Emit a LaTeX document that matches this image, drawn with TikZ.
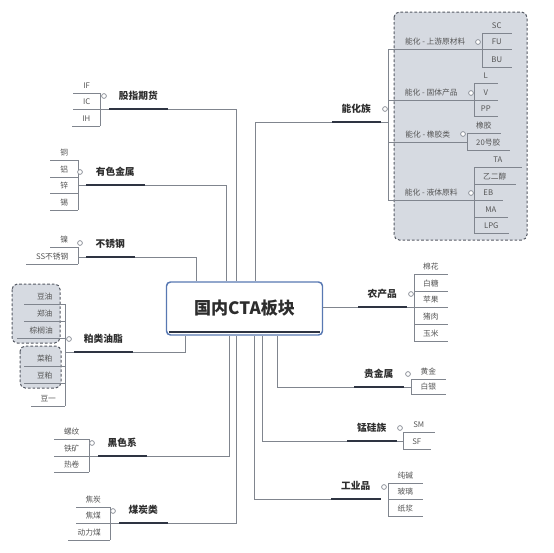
\documentclass[tikz,border=0pt]{standalone}
\usepackage{fontspec}
\setmainfont{Noto Sans CJK SC}
\usepackage{tikz}

\definecolor{linegray}{RGB}{128,133,142}
\definecolor{bardark}{RGB}{46,52,66}
\definecolor{hubblue}{RGB}{88,120,178}
\definecolor{groupfill}{RGB}{214,218,225}
\definecolor{groupedge}{RGB}{85,90,100}
\definecolor{leaftext}{RGB}{85,85,85}
\definecolor{topictext}{RGB}{45,45,45}

\tikzset{
  wire/.style={draw=linegray, line width=0.75pt},
  bar/.style={draw=bardark, line width=2.2pt},
  topic/.style={font=\fontsize{7.3}{8}\selectfont\bfseries, text=topictext, inner sep=0pt, minimum width=#1, minimum height=19.5pt,
    append after command={(\tikzlastnode.south west) edge[bar] (\tikzlastnode.south east)}},
  leaf/.style={font=\fontsize{5.8}{7}\selectfont, text=leaftext, inner sep=0pt, minimum width=#1, minimum height=11.25pt,
    append after command={(\tikzlastnode.south west) edge[wire] (\tikzlastnode.south east)}},
  knob/.style={circle, draw=linegray, line width=0.5pt, fill=white, inner sep=0pt, minimum size=3.6pt},
  group/.style={draw=groupedge, fill=groupfill, dash pattern=on 2pt off 1.5pt, line width=0.75pt, rounded corners=4pt},
  hub/.style={draw=hubblue, fill=white, line width=1.1pt, rounded corners=3pt, minimum width=117pt, minimum height=39.75pt,
    font=\fontsize{12.8}{14}\selectfont\bfseries, text=topictext}
}

\begin{document}
\begin{tikzpicture}[x=0.75pt,y=0.75pt,yscale=-1,xscale=1]
    \useasboundingbox (0,0) rectangle (554,553);

        \draw[group] (12,284) rectangle (60,343);
        \draw[group] (20,346) rectangle (61,388);
        \draw[group] (394,12) rectangle (527,240);

        \node[hub] (hub) at (244.5,308.5) {国内CTA板块};
        \draw[bar] (169,332) -- (320,332);

        \node[topic=43.5pt, anchor=south west] (gzT) at (109,109) {股指期货};
        \node[leaf=19.5pt, anchor=south east] (ifL) at (100,93) {IF};
        \node[leaf=19.5pt, anchor=south east] (icL) at (100,109) {IC};
        \node[leaf=20.25pt, anchor=south east] (ihL) at (100,126) {IH};
        \coordinate (gzB) at (236,109);
        \draw[wire] (ifL.south east) -- (ihL.south east);
        \draw[wire] (gzT.south west) -- (gzT.south west -| ifL.south east);
        \draw[wire] (gzT.south east) -- (gzB) -- (gzB |- hub.north);
        \node[knob] (gzK) at (104,96) {};

        \node[topic=43.5pt, anchor=south west] (ysT) at (86,185) {有色金属};
        \node[leaf=20.25pt, anchor=south east] (tongL) at (78,160) {铜};
        \node[leaf=20.25pt, anchor=south east] (lvL) at (78,177) {铝};
        \node[leaf=20.25pt, anchor=south east] (xinL) at (78,193) {锌};
        \node[leaf=20.25pt, anchor=south east] (xiL) at (78,210) {锡};
        \coordinate (ysB) at (226,185);
        \draw[wire] (tongL.south east) -- (xiL.south east);
        \draw[wire] (ysT.south west) -- (ysT.south west -| tongL.south east);
        \draw[wire] (ysT.south east) -- (ysB) -- (ysB |- hub.north);
        \node[knob] (ysK) at (80,172) {};

        \node[topic=36pt, anchor=south west] (bxT) at (86,257) {不锈钢};
        \node[leaf=20.25pt, anchor=south east] (nieL) at (78,247) {镍};
        \node[leaf=38.25pt, anchor=south east] (ssL) at (78,264) {SS不锈钢};
        \coordinate (bxB) at (196,257);
        \draw[wire] (nieL.south east) -- (ssL.south east);
        \draw[wire] (bxT.south west) -- (bxT.south west -| nieL.south east);
        \draw[wire] (bxT.south east) -- (bxB) -- (bxB |- hub.north);
        \node[knob] (bxK) at (80,243) {};

        \node[topic=43.5pt, anchor=south west] (plT) at (74,352) {粕类油脂};
        \node[leaf=30pt, anchor=south east] (doyL) at (65,304) {豆油};
        \node[leaf=30pt, anchor=south east] (zhyL) at (65,321) {郑油};
        \node[leaf=35.25pt, anchor=south east] (zlyL) at (65,338) {棕榈油};
        \node[leaf=30pt, anchor=south east] (cpL) at (65,366) {菜粕};
        \node[leaf=30pt, anchor=south east] (dpL) at (65,383) {豆粕};
        \node[leaf=24.75pt, anchor=south east] (dyL) at (65,406) {豆一};
        \coordinate (plB) at (185,352);
        \draw[wire] (doyL.south east) -- (dyL.south east);
        \draw[wire] (plT.south west) -- (plT.south west -| doyL.south east);
        \draw[wire] (plT.south east) -- (plB) -- (plB |- hub.south);
        \node[knob] (plK) at (69,339) {};

        \node[topic=36pt, anchor=south west] (hsT) at (98,456) {黑色系};
        \node[leaf=25.5pt, anchor=south east] (lwL) at (89,439) {螺纹};
        \node[leaf=25.5pt, anchor=south east] (tkL) at (89,456) {铁矿};
        \node[leaf=25.5pt, anchor=south east] (rjL) at (89,472) {热卷};
        \coordinate (hsB) at (229,456);
        \draw[wire] (lwL.south east) -- (rjL.south east);
        \draw[wire] (hsT.south west) -- (hsT.south west -| lwL.south east);
        \draw[wire] (hsT.south east) -- (hsB) -- (hsB |- hub.south);
        \node[knob] (hsK) at (92,443) {};

        \node[topic=36pt, anchor=south west] (mtT) at (119,523) {煤炭类};
        \node[leaf=24.75pt, anchor=south east] (jtL) at (110,507) {焦炭};
        \node[leaf=24.75pt, anchor=south east] (jmL) at (110,523) {焦煤};
        \node[leaf=30.75pt, anchor=south east] (dlmL) at (110,540) {动力煤};
        \coordinate (mtB) at (236,523);
        \draw[wire] (jtL.south east) -- (dlmL.south east);
        \draw[wire] (mtT.south west) -- (mtT.south west -| jtL.south east);
        \draw[wire] (mtT.south east) -- (mtB) -- (mtB |- hub.south);
        \node[knob] (mtK) at (113,511) {};

        \node[topic=36pt, anchor=south west] (nhT) at (332,122) {能化族};
        \node[leaf=70.5pt, anchor=south west] (nhU) at (388,49) {能化 - 上游原材料};
        \node[leaf=64.5pt, anchor=south west] (nhS) at (388,100) {能化 - 固体产品};
        \node[leaf=59.25pt, anchor=south west] (nhX) at (388,142) {能化 - 橡胶类};
        \node[leaf=64.5pt, anchor=south west] (nhY) at (388,200) {能化 - 液体原料};
        \coordinate (nhB) at (255,122);
        \draw[wire] (nhU.south west) -- (nhY.south west);
        \draw[wire] (nhT.south east) -- (nhT.south east -| nhU.south west);
        \draw[wire] (nhT.south west) -- (nhB) -- (nhB |- hub.north);
        \node[knob] (nhK) at (385,109) {};

        \node[leaf=21.75pt, anchor=south west] (scL) at (482,33) {SC};
        \node[leaf=21.75pt, anchor=south west] (fuL) at (482,49) {FU};
        \node[leaf=21.75pt, anchor=south west] (buL) at (482,67) {BU};
        \draw[wire] (scL.south west) -- (buL.south west);
        \node[knob] (nhUK) at (478,42) {};

        \node[leaf=17.25pt, anchor=south west] (lL) at (474,83) {L};
        \node[leaf=17.25pt, anchor=south west] (vL) at (474,100) {V};
        \node[leaf=17.25pt, anchor=south west] (ppL) at (474,116) {PP};
        \draw[wire] (lL.south west) -- (ppL.south west);
        \node[knob] (nhSK) at (471,93) {};

        \node[leaf=24.75pt, anchor=south west] (xjL) at (467,133) {橡胶};
        \node[leaf=31.5pt, anchor=south west] (ehL) at (467,150) {20号胶};
        \draw[wire] (xjL.south west) -- (ehL.south west);
        \node[knob] (nhXK) at (463,134) {};

        \node[leaf=35.25pt, anchor=south west] (taL) at (474,167) {TA};
        \node[leaf=30.75pt, anchor=south west] (egL) at (474,184) {乙二醇};
        \node[leaf=21pt, anchor=south west] (ebL) at (474,200) {EB};
        \node[leaf=24.75pt, anchor=south west] (maL) at (474,217) {MA};
        \node[leaf=25.5pt, anchor=south west] (lpgL) at (474,233) {LPG};
        \draw[wire] (taL.south west) -- (lpgL.south west);
        \node[knob] (nhYK) at (471,193) {};

        \node[topic=36pt, anchor=south west] (ncT) at (358,307) {农产品};
        \node[leaf=24.75pt, anchor=south west] (mhL) at (414,274) {棉花};
        \node[leaf=24.75pt, anchor=south west] (btL) at (414,291) {白糖};
        \node[leaf=24.75pt, anchor=south west] (pgL) at (414,307) {苹果};
        \node[leaf=24.75pt, anchor=south west] (zrL) at (414,324) {猪肉};
        \node[leaf=24.75pt, anchor=south west] (ymL) at (414,341) {玉米};
        \draw[wire] (mhL.south west) -- (ymL.south west);
        \draw[wire] (ncT.south east) -- (ncT.south east -| mhL.south west);
        \draw[wire] (hub.east |- ncT.south west) -- (ncT.south west);
        \node[knob] (ncK) at (411,294) {};

        \node[topic=36.75pt, anchor=south west] (gjT) at (354,387) {贵金属};
        \node[leaf=25.5pt, anchor=south west] (hjL) at (411,379) {黄金};
        \node[leaf=25.5pt, anchor=south west] (byL) at (411,394) {白银};
        \coordinate (gjB) at (277,387);
        \draw[wire] (hjL.south west) -- (byL.south west);
        \draw[wire] (gjT.south east) -- (gjT.south east -| hjL.south west);
        \draw[wire] (gjT.south west) -- (gjB) -- (gjB |- hub.south);
        \node[knob] (gjK) at (408,374) {};

        \node[topic=36.75pt, anchor=south west] (mgT) at (347,441) {锰硅族};
        \node[leaf=23.25pt, anchor=south west] (smL) at (403,432) {SM};
        \node[leaf=20.25pt, anchor=south west] (sfL) at (403,449) {SF};
        \coordinate (mgB) at (262,441);
        \draw[wire] (smL.south west) -- (sfL.south west);
        \draw[wire] (mgT.south east) -- (mgT.south east -| smL.south west);
        \draw[wire] (mgT.south west) -- (mgB) -- (mgB |- hub.south);
        \node[knob] (mgK) at (400,428) {};

        \node[topic=36.75pt, anchor=south west] (gyT) at (331,499) {工业品};
        \node[leaf=25.5pt, anchor=south west] (cjL) at (388,483) {纯碱};
        \node[leaf=25.5pt, anchor=south west] (blL) at (388,499) {玻璃};
        \node[leaf=25.5pt, anchor=south west] (zjL) at (388,516) {纸浆};
        \coordinate (gyB) at (254,499);
        \draw[wire] (cjL.south west) -- (zjL.south west);
        \draw[wire] (gyT.south west) -- (gyB) -- (gyB |- hub.south);
        \node[knob] (gyK) at (384,487) {};

\end{tikzpicture}
\end{document}
